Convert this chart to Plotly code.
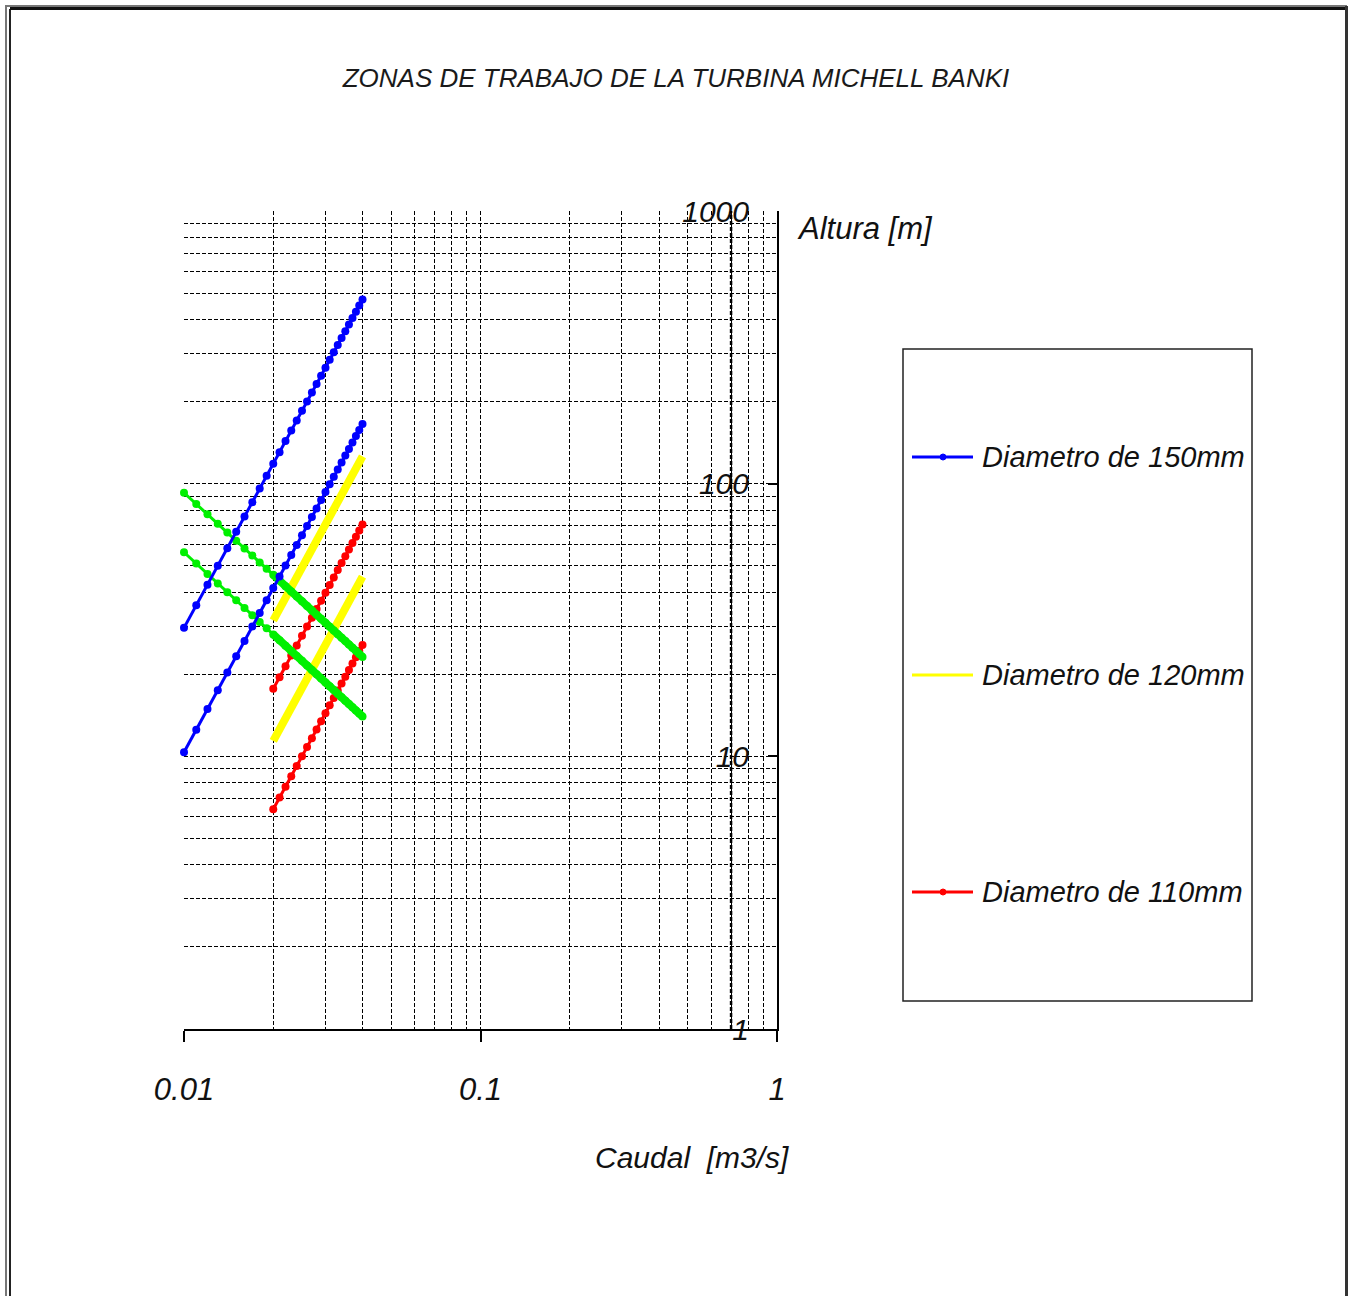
import plotly.graph_objects as go

# ---------------- data ----------------
q_full = [0.010, 0.011, 0.012, 0.013, 0.014, 0.015, 0.016, 0.017, 0.018, 0.019,
          0.020, 0.021, 0.022, 0.023, 0.024, 0.025, 0.026, 0.027, 0.028, 0.029,
          0.030, 0.031, 0.032, 0.033, 0.034, 0.035, 0.036, 0.037, 0.038, 0.039, 0.040]
q_half = [0.020, 0.021, 0.022, 0.023, 0.024, 0.025, 0.026, 0.027, 0.028, 0.029,
          0.030, 0.031, 0.032, 0.033, 0.034, 0.035, 0.036, 0.037, 0.038, 0.039, 0.040]

h150_high = [29.6, 35.8, 42.6, 50.0, 58.0, 66.6, 75.8, 85.5, 95.9, 106.9,
             118.4, 130.5, 143.3, 156.6, 170.5, 185.0, 200.1, 215.8, 232.1, 248.9,
             266.4, 284.5, 303.1, 322.3, 342.2, 362.6, 383.6, 405.2, 427.4, 450.2, 473.6]
h150_low = [10.35, 12.52, 14.90, 17.49, 20.29, 23.29, 26.50, 29.91, 33.53, 37.36,
            41.40, 45.64, 50.09, 54.75, 59.62, 64.69, 69.97, 75.45, 81.14, 87.04,
            93.15, 99.46, 105.98, 112.71, 119.65, 126.79, 134.14, 141.69, 149.45, 157.42, 165.60]
h120_high = [31.5, 34.73, 38.12, 41.66, 45.36, 49.22, 53.24, 57.41, 61.74, 66.23,
             70.88, 75.68, 80.64, 85.76, 91.04, 96.47, 102.06, 107.81, 113.72, 119.78, 126.0]
h120_low = [11.4, 12.57, 13.79, 15.08, 16.42, 17.81, 19.27, 20.78, 22.34, 23.97,
            25.65, 27.39, 29.18, 31.04, 32.95, 34.91, 36.94, 39.02, 41.15, 43.35, 45.6]
h110_high = [17.7, 19.51, 21.42, 23.41, 25.49, 27.66, 29.91, 32.26, 34.69, 37.21,
             39.83, 42.52, 45.31, 48.19, 51.15, 54.21, 57.35, 60.58, 63.90, 67.30, 70.8]
h110_low = [6.4, 7.06, 7.74, 8.46, 9.22, 10.0, 10.82, 11.66, 12.54, 13.46,
            14.4, 15.38, 16.38, 17.42, 18.5, 19.6, 20.74, 21.9, 23.1, 24.34, 25.6]
h_green_high = [92.6, 84.18, 77.17, 71.23, 66.14, 61.73, 57.88, 54.47, 51.44, 48.74,
                46.3, 44.10, 42.09, 40.26, 38.58, 37.04, 35.62, 34.30, 33.07, 31.93,
                30.87, 29.87, 28.94, 28.06, 27.24, 26.46, 25.72, 25.03, 24.37, 23.74, 23.15]
h_green_low = [56.0, 50.91, 46.67, 43.08, 40.0, 37.33, 35.0, 32.94, 31.11, 29.47,
               28.0, 26.67, 25.45, 24.35, 23.33, 22.4, 21.54, 20.74, 20.0, 19.31,
               18.67, 18.06, 17.5, 16.97, 16.47, 16.0, 15.56, 15.14, 14.74, 14.36, 14.0]

legend_labels = ["Diametro de 150mm", "Diametro de 120mm", "Diametro de 110mm"]
x_ticks = [0.01, 0.1, 1]
x_ticktext = ["0.01", "0.1", "1"]
y_ticks = [1, 10, 100, 1000]
y_ticktext = ["1", "10", "100", "1000"]
x_minor = [0.02, 0.03, 0.04, 0.05, 0.06, 0.07, 0.08, 0.09, 0.1,
           0.2, 0.3, 0.4, 0.5, 0.6, 0.7, 0.8, 0.9]
y_minor = [2, 3, 4, 5, 6, 7, 8, 9, 10, 20, 30, 40, 50, 60, 70, 80, 90, 100,
           200, 300, 400, 500, 600, 700, 800, 900]
y_axis_cross = 0.7

title_text = "ZONAS DE TRABAJO DE LA TURBINA MICHELL BANKI"
x_title = "Caudal  [m3/s]"
y_title = "Altura [m]"

# ---------------- layout geometry ----------------
W, H = 1349, 1296
L, R, T, B = 184, 777, 211, 1029


def px_x(p):
    return (p - L) / (R - L)


def px_y(p):
    return (B - p) / (B - T)


SANS = "Liberation Sans, Arial, sans-serif"
INK = "#111111"

BLUE, YELLOW, RED, GREEN = "#0000FF", "#FFFF00", "#FF0000", "#00F000"

fig = go.Figure()


def add_line(x, y, color, width, marker_size=None, yaxis="y"):
    mode = "lines+markers" if marker_size else "lines"
    fig.add_trace(go.Scatter(
        x=x, y=y, mode=mode, yaxis=yaxis, showlegend=False, cliponaxis=False,
        line=dict(color=color, width=width),
        marker=dict(color=color, size=marker_size or 1, symbol="circle"),
        hoverinfo="x+y"))


add_line(q_half, h120_high, YELLOW, 8)
add_line(q_half, h120_low, YELLOW, 8)
add_line(q_half, h110_high, RED, 3, 8)
add_line(q_half, h110_low, RED, 3, 8)
add_line(q_full, h_green_high, GREEN, 3, 8)
add_line(q_full, h_green_low, GREEN, 3, 8)
add_line(q_full[10:], h_green_high[10:], GREEN, 8)
add_line(q_full[10:], h_green_low[10:], GREEN, 8)
# blue series drawn on the overlaying axis that carries the tick labels
add_line(q_full, h150_high, BLUE, 3, 8, yaxis="y2")
add_line(q_full, h150_low, BLUE, 3, 8, yaxis="y2")

grid = dict(showgrid=True, gridcolor="#000000", gridwidth=1, griddash="4px,2px")

fig.update_layout(
    width=W, height=H,
    margin=dict(l=L, r=W - R, t=T, b=H - B, pad=0),
    paper_bgcolor="white", plot_bgcolor="white",
    showlegend=False,
    title=dict(text=title_text, x=676 / W, xref="container", xanchor="center",
               y=1 - 78 / H, yref="container", yanchor="middle",
               font=dict(family=SANS, size=26, color="#1a1a1a", style="italic")),
    xaxis=dict(type="log", range=[-2, 0], showgrid=False, zeroline=False,
               showline=True, linecolor="#000000", linewidth=1.5,
               ticks="outside", ticklen=11, tickwidth=1.5, tickcolor="#000000",
               tickmode="array", tickvals=x_ticks, ticktext=x_ticktext,
               ticklabelstandoff=21,
               tickfont=dict(family=SANS, size=31, color=INK, style="italic"),
               minor=dict(tickmode="array", tickvals=x_minor, ticks="", **grid)),
    yaxis=dict(type="log", range=[0, 3], side="right", showgrid=False, zeroline=False,
               showline=True, linecolor="#000000", linewidth=1.5,
               ticks="inside", ticklen=9, tickwidth=1.5, tickcolor="#000000",
               tickmode="array", tickvals=y_ticks, showticklabels=False,
               minor=dict(tickmode="array", tickvals=y_minor, ticks="", **grid)),
    yaxis2=dict(type="log", range=[0, 3], overlaying="y", anchor="free",
                position=px_x(749), side="left", showgrid=False, zeroline=False,
                showline=False, ticks="", tickmode="array", tickvals=y_ticks,
                ticktext=y_ticktext,
                tickfont=dict(family=SANS, size=30, color=INK, style="italic")),
)

# y axis crossing line (dashed, heavier) at x = 0.7
fig.add_shape(type="line", xref="x", yref="paper", x0=y_axis_cross, x1=y_axis_cross,
              y0=0, y1=1, line=dict(color="#000000", width=2.5, dash="4px,2px"))

# axis titles
fig.add_annotation(text=x_title, xref="paper", yref="paper", x=px_x(692), y=px_y(1157),
                   xanchor="center", yanchor="middle", showarrow=False,
                   font=dict(family=SANS, size=30, color=INK, style="italic"))
fig.add_annotation(text=y_title, xref="paper", yref="paper", x=px_x(795), y=px_y(228),
                   xanchor="left", yanchor="middle", showarrow=False,
                   font=dict(family=SANS, size=31, color=INK, style="italic"))

# legend box (drawn manually to match the original layout)
fig.add_shape(type="rect", xref="paper", yref="paper",
              x0=px_x(903), x1=px_x(1252), y0=px_y(1001), y1=px_y(349),
              line=dict(color="#222222", width=1.5), fillcolor="rgba(0,0,0,0)")
leg_colors = [BLUE, YELLOW, RED]
leg_marker = [True, False, True]
leg_rows = [457, 675, 892]
for lab, col, mk, row in zip(legend_labels, leg_colors, leg_marker, leg_rows):
    fig.add_shape(type="line", xref="paper", yref="paper",
                  x0=px_x(912), x1=px_x(973), y0=px_y(row), y1=px_y(row),
                  line=dict(color=col, width=3))
    if mk:
        fig.add_shape(type="circle", xref="paper", yref="paper",
                      x0=px_x(940), x1=px_x(946), y0=px_y(row + 3), y1=px_y(row - 3),
                      line=dict(color=col, width=1), fillcolor=col)
    fig.add_annotation(text=lab, xref="paper", yref="paper", x=px_x(980), y=px_y(row),
                       xanchor="left", yanchor="middle", showarrow=False,
                       font=dict(family=SANS, size=29, color=INK, style="italic"))

# outer page frame
frame = [
    (6, 5, 6, H + 5, "#777777", 2),
    (10, 9, 10, H + 5, "#222222", 2),
    (5, 6, W - 2, 6, "#777777", 2),
    (10, 8.5, W - 3, 8.5, "#111111", 3),
    (W - 2.5, 6, W - 2.5, H + 5, "#333333", 3),
]
for x0, y0, x1, y1, col, w in frame:
    fig.add_shape(type="line", xref="paper", yref="paper",
                  x0=px_x(x0), x1=px_x(x1), y0=px_y(y0), y1=px_y(y1),
                  line=dict(color=col, width=w))

fig.write_html("out.html", config={"displayModeBar": False},
               post_script="document.body.style.margin='0';document.body.style.overflow='hidden';")
